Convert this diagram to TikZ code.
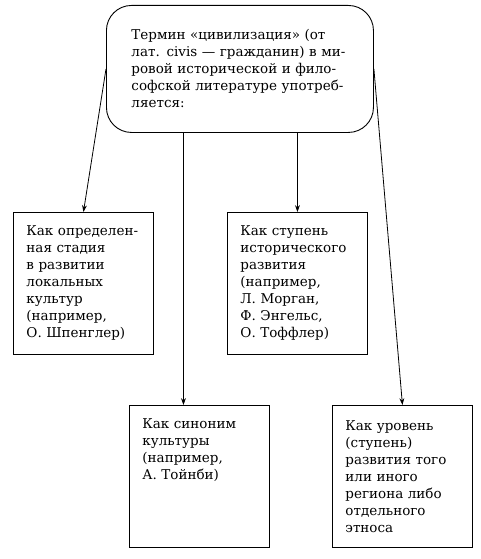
\documentclass[tikz,border=0pt]{standalone}
\usepackage{fontspec}
\setmainfont{DejaVu Serif}
\usepackage{tikz}
\usetikzlibrary{positioning,arrows.meta,calc}
\tikzset{
  >={Stealth[length=2.4mm,width=1.7mm]},
  txtfont/.style={font=\fontsize{13.5}{17}\selectfont},
  termbox/.style={draw,rounded corners=25pt,line width=0.9pt,txtfont,
    anchor=north west,minimum width=267pt,minimum height=127pt,
    inner xsep=25pt,text width=217pt},
  waybox/.style={draw,line width=0.9pt,txtfont,anchor=north west,
    minimum width=140pt,minimum height=142pt,inner xsep=13pt,
    text width=114pt,align=left},
  flow/.style={->,line width=0.8pt},
}
\newcommand{\jline}[1]{\makebox[\linewidth][s]{#1}\\}

\begin{document}
\begin{tikzpicture}[x=1pt,y=-1pt]
  \useasboundingbox (0,0) rectangle (481,559);
  \node[termbox] (term) at (106,5) {%
    \jline{Термин «цивилизация» (от}
    \jline{лат. civis — гражданин) в ми-}
    \jline{ровой исторической и фило-}
    \jline{софской литературе употреб-}
    ляется:};
  \node[waybox] (stage) at (13,212) {\mbox{Как определен-}\\ная стадия\\в развитии\\
    локальных\\культур\\(например,\\О. Шпенглер)};
  \node[waybox] (histstep) at (227,212) {Как ступень\\исторического\\развития\\
    (например,\\Л. Морган,\\Ф. Энгельс,\\О. Тоффлер)};
  \node[waybox,text depth=105pt] (synonym) at (129,405) {Как синоним\\культуры\\
    (например,\\А. Тойнби)};
  \node[waybox] (level) at (332,405) {Как уровень\\(ступень)\\развития того\\
    или иного\\региона либо\\отдельного\\этноса};
  \draw[flow] (term.west) -- (stage.north);
  \draw[flow] (histstep.north |- term.south) -- (histstep.north);
  \draw[flow] ([xshift=-16pt]synonym.north |- term.south) -- ([xshift=-16pt]synonym.north);
  \draw[flow] (term.east) -- (level.north);
\end{tikzpicture}
\end{document}
